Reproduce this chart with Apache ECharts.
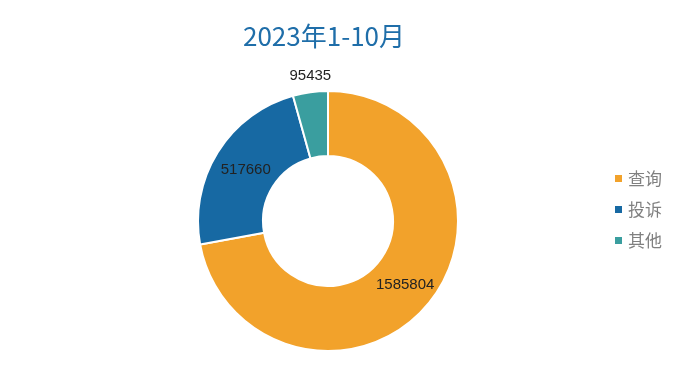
<!DOCTYPE html>
<html><head><meta charset="utf-8">
<script src="https://cdn.jsdelivr.net/npm/echarts@6/dist/echarts.min.js"></script>
<style>html,body{margin:0;padding:0;background:#fff}#c{width:690px;height:369px}</style>
</head><body><div id="c"></div>
<script>
var titleText = '2023年1-10月';
var categories = ['查询', '投诉', '其他'];
var values = [1585804, 517660, 95435];
var colors = ['#F2A22B', '#1769A3', '#3A9E9F'];

var labelOffsets = [[0, 0], [3, 2], [-4, -46]];
var data = categories.map(function (n, i) {
  return {
    name: n, value: values[i],
    itemStyle: {color: colors[i]},
    label: {position: 'inside', offset: labelOffsets[i]}
  };
});

var chart = echarts.init(document.getElementById('c'));
chart.setOption({
  animation: false,
  title: {
    text: titleText, left: 238, top: 18,
    textStyle: {color: '#1F6EA9', fontSize: 26, fontWeight: 'normal', fontFamily: 'Noto Sans CJK SC'}
  },
  legend: {
    orient: 'vertical', left: 608, top: 165, itemWidth: 9, itemHeight: 9, itemGap: 14,
    icon: 'rect',
    textStyle: {color: '#808080', fontSize: 17, fontFamily: 'Noto Sans CJK SC'},
    data: categories
  },
  series: [{
    type: 'pie', center: [328, 221], radius: [65, 130],
    startAngle: 90, clockwise: true,
    itemStyle: {borderColor: '#fff', borderWidth: 2},
    label: {show: true, formatter: '{c}', color: '#222', fontSize: 15, fontFamily: 'Liberation Sans'},
    labelLine: {show: false},
    data: data
  }]
});
</script></body></html>
